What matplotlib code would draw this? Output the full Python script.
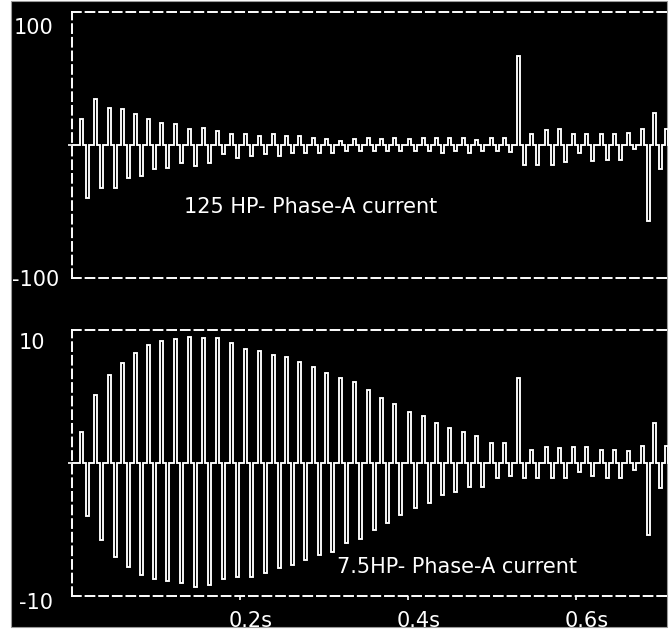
import matplotlib
matplotlib.use("Agg")
import matplotlib.pyplot as plt
from matplotlib.patches import Rectangle

# ---------------- data ----------------
# start time (s) of each 60 Hz cycle pulse
t_cycle = [0.0095, 0.0262, 0.0429, 0.0583, 0.0738, 0.0893, 0.1048, 0.1214, 0.1381,
           0.1548, 0.1714, 0.1881, 0.2048, 0.2214, 0.2381, 0.2536, 0.2690, 0.2857,
           0.3012, 0.3179, 0.3345, 0.3512, 0.3667, 0.3821, 0.4000, 0.4167, 0.4321,
           0.4476, 0.4643, 0.4798, 0.4976, 0.5131, 0.5298, 0.5452, 0.5631, 0.5786,
           0.5952, 0.6107, 0.6286, 0.6440, 0.6607, 0.6774, 0.6917, 0.7060]

# 125 HP phase-A current: positive and negative peak of each cycle
hp125_pos = [19.5, 34.6, 28.0, 27.0, 23.0, 19.5, 16.5, 15.8, 12.0, 13.0, 10.5, 8.0,
             8.0, 7.0, 8.0, 6.7, 6.7, 5.5, 4.3, 3.0, 4.3, 5.5, 4.3, 5.5, 4.3, 5.5,
             5.5, 5.5, 5.5, 4.0, 5.0, 5.0, 67.0, 8.5, 11.0, 11.8, 8.0, 8.5, 8.5, 8.5,
             9.0, 11.8, 24.0, 12.0]
hp125_neg = [-40.0, -32.0, -32.0, -25.0, -23.0, -18.0, -17.0, -13.5, -15.8, -13.5,
             -7.0, -9.5, -8.6, -7.0, -8.3, -5.8, -5.8, -5.8, -5.8, -4.5, -4.5, -4.5,
             -4.5, -4.5, -4.5, -4.5, -5.8, -4.5, -5.8, -4.5, -4.5, -5.0, -15.0, -15.0,
             -15.0, -13.0, -6.0, -12.0, -11.0, -11.0, -3.0, -57.0, -18.0, -3.0]

# 7.5 HP phase-A current: positive and negative peak of each cycle
hp75_pos = [2.3, 5.1, 6.6, 7.5, 8.3, 8.9, 9.2, 9.3, 9.5, 9.4, 9.4, 9.0, 8.6, 8.4,
            8.1, 8.0, 7.6, 7.2, 6.8, 6.4, 6.1, 5.5, 4.9, 4.4, 3.8, 3.5, 3.0, 2.6,
            2.3, 2.0, 1.5, 1.5, 6.4, 1.0, 1.2, 1.1, 1.2, 1.2, 1.0, 1.0, 0.9, 1.3,
            3.0, 1.3]
hp75_neg = [-4.0, -5.8, -7.1, -7.8, -8.4, -8.7, -8.9, -9.0, -9.3, -9.2, -8.7, -8.6,
            -8.6, -8.3, -7.9, -7.7, -7.3, -6.9, -6.7, -6.0, -5.7, -5.0, -4.5, -3.9,
            -3.4, -3.0, -2.4, -2.2, -1.8, -1.8, -1.1, -1.0, -1.1, -1.1, -1.1, -1.1,
            -0.7, -1.0, -1.1, -1.1, -0.5, -5.4, -1.9, -0.5]

labels_top = ["100", "-100"]
labels_bot = ["10", "-10"]
xtick_vals = [0.2, 0.4, 0.6]
xtick_labels = ["0.2s", "0.4s", "0.6s"]
title_top = "125 HP- Phase-A current"
title_bot = "7.5HP- Phase-A current"

# ---------------- drawing ----------------
W, H = 670, 630
fig = plt.figure(figsize=(W / 100, H / 100), dpi=100, facecolor="white")
FONT = ["DejaVu Sans"]

def fx(x):
    return x / W

def fy(y):
    return 1 - y / H

fig.patches.append(Rectangle((fx(11), fy(627)), fx(667) - fx(11), fy(1) - fy(627),
                             transform=fig.transFigure, facecolor="black",
                             edgecolor="#9a9a9a", linewidth=0.8, zorder=-5))

PW = 0.0036   # pulse width (s)
ND = 0.0070   # delay of negative pulse after positive (s)

def pulse_path(times, pos, neg):
    xs, ys = [0.0], [0.0]
    for t, p, n in zip(times, pos, neg):
        xs += [t, t, t + PW, t + PW, t + ND, t + ND, t + ND + PW, t + ND + PW]
        ys += [0, p, p, 0, 0, n, n, 0]
    return xs, ys

XMAX = (668 - 72) / 840

def make_axes(ytop, ybot, lim, pos, neg):
    ax = fig.add_axes([fx(72), fy(ybot), fx(668) - fx(72), fy(ytop) - fy(ybot)])
    ax.set_zorder(1)
    ax.set_facecolor("none")
    ax.set_xlim(0, XMAX)
    ax.set_ylim(-lim, lim)
    for s in ["top", "left", "bottom"]:
        ax.spines[s].set_color("white")
        ax.spines[s].set_linewidth(1.4)
        ax.spines[s].set_linestyle((0, (4.5, 2.5)))
    ax.spines["right"].set_visible(False)
    ax.set_yticks([0])
    ax.tick_params(axis="y", length=3, width=1.2, color="white", direction="out",
                   labelleft=False)
    xs, ys = pulse_path(t_cycle, pos, neg)
    ax.plot(xs, ys, color="white", linewidth=1.35,
            solid_joinstyle="miter", clip_on=True)
    return ax

ax1 = make_axes(12, 278, 100, hp125_pos, hp125_neg)
ax1.set_xticks([])
ax2 = make_axes(330, 596, 10, hp75_pos, hp75_neg)
ax2.set_xticks(xtick_vals)
ax2.tick_params(axis="x", length=3, width=1.2, color="white", direction="out",
                labelbottom=False)

fs = 15
kw = dict(color="white", fontsize=fs, family=FONT, va="center", zorder=5)
fig.text(fx(14), fy(28), labels_top[0], ha="left", **kw)
fig.text(fx(12), fy(280), labels_top[1], ha="left", **kw)
fig.text(fx(19), fy(343), labels_bot[0], ha="left", **kw)
fig.text(fx(19), fy(603), labels_bot[1], ha="left", **kw)

for v, lab in zip(xtick_vals, xtick_labels):
    xpix = 72 + v * 840 + 11
    fig.text(fx(xpix), fy(621), lab, ha="center", **kw)

fig.text(fx(184), fy(207), title_top, ha="left", **kw)
fig.text(fx(337), fy(567), title_bot, ha="left", **kw)

fig.savefig("out.png", dpi=100, facecolor="white")
